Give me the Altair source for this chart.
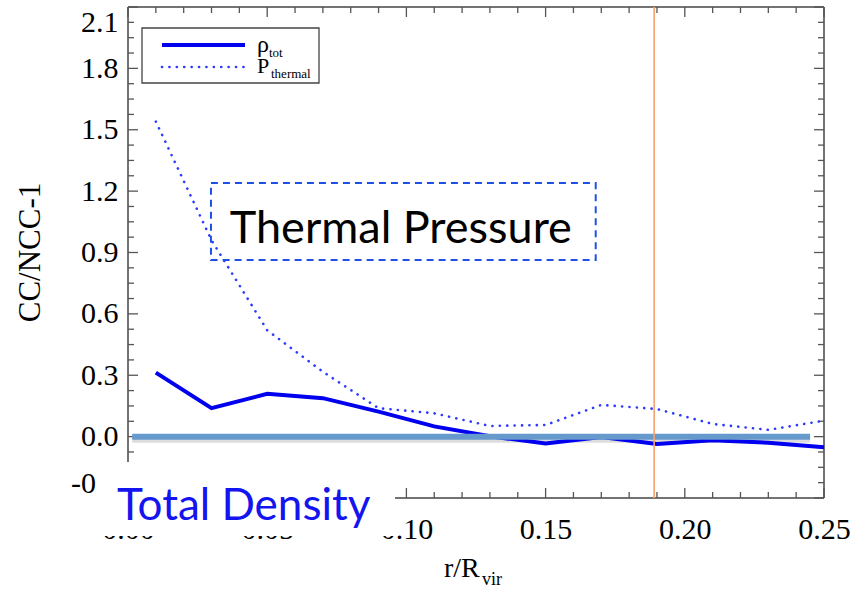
import altair as alt
import pandas as pd

# ---------------- data ----------------
r_x = [0.01, 0.03, 0.05, 0.07, 0.09, 0.11, 0.13, 0.15, 0.17, 0.19, 0.21, 0.23, 0.25]
rho_tot = [0.313, 0.139, 0.209, 0.188, 0.122, 0.050, 0.002, -0.034, -0.002, -0.036, -0.018, -0.030, -0.052]
p_thermal = [1.54, 0.96, 0.52, 0.317, 0.139, 0.114, 0.052, 0.057, 0.155, 0.135, 0.062, 0.033, 0.078]

zero_x = [0.0015, 0.245]
zero_y = [0.0, 0.0]
vline_x = [0.189]

x_major = [0.0, 0.05, 0.10, 0.15, 0.20, 0.25]
x_minor = [0.01, 0.02, 0.03, 0.04, 0.06, 0.07, 0.08, 0.09, 0.11, 0.12, 0.13, 0.14,
           0.16, 0.17, 0.18, 0.19, 0.21, 0.22, 0.23, 0.24]
y_major = [-0.3, 0.0, 0.3, 0.6, 0.9, 1.2, 1.5, 1.8, 2.1]
y_minor = [round(-0.3 + 0.075 * i, 3) for i in range(33) if i % 4 != 0]

box_x = [0.0298, 0.168]
box_y = [0.863, 1.24]
box_text = ["Thermal Pressure"]
box_text_pos = [0.098, 0.946]

W, H = 696, 491
SERIF = "Liberation Serif"
SANS = "Lato"
TICK = "#555555"
FRAME = "#444444"

xs = alt.Scale(domain=[0, 0.25], nice=False, zero=False)
ys = alt.Scale(domain=[-0.3, 2.1], nice=False, zero=False)

x_axis = alt.Axis(values=x_major, format=".2f", labelFont=SERIF, labelFontSize=30,
                  labelColor="black", labelPadding=16, domain=False, ticks=False,
                  tickSize=0, grid=False, title=None, labelFlush=False,
                  labelOverlap=False)
y_axis = alt.Axis(values=y_major, format=".1f", labelExpr="replace(datum.label, '\u2212', '-')",
                  labelFont=SERIF, labelFontSize=30,
                  labelColor="black", labelPadding=10, domain=False, ticks=False,
                  tickSize=0, grid=False, labelFlush=True, labelOverlap=False,
                  title="CC/NCC-1", titleFont=SERIF, titleFontSize=31,
                  titleFontWeight="normal", titleColor="black", titleAngle=270,
                  titleAlign="center", titleBaseline="middle", titleX=-98, titleY=245)

df = pd.DataFrame({"x": r_x, "rho": rho_tot, "p": p_thermal})
zdf = pd.DataFrame({"x": zero_x, "y": zero_y})
one = pd.DataFrame({"d": [0]})

X = lambda f: alt.X(f, type="quantitative", scale=xs, axis=x_axis)
Y = lambda f: alt.Y(f, type="quantitative", scale=ys, axis=y_axis)

# frame
frame = [
    alt.Chart(one).mark_rule(color=FRAME, strokeWidth=1.5).encode(x=alt.value(0), y=alt.value(0), y2=alt.value(H)),
    alt.Chart(one).mark_rule(color=FRAME, strokeWidth=1.5).encode(x=alt.value(W), y=alt.value(0), y2=alt.value(H)),
    alt.Chart(one).mark_rule(color=FRAME, strokeWidth=1.5).encode(y=alt.value(0), x=alt.value(0), x2=alt.value(W)),
    alt.Chart(one).mark_rule(color=FRAME, strokeWidth=1.5).encode(y=alt.value(H), x=alt.value(0), x2=alt.value(W)),
]

# ticks (inward, all four sides)
ymaj = pd.DataFrame({"v": y_major})
ymin = pd.DataFrame({"v": y_minor})
xmaj = pd.DataFrame({"v": x_major})
xmin = pd.DataFrame({"v": x_minor})
ticks = []
for d, ln in [(ymaj, 10), (ymin, 6)]:
    ticks.append(alt.Chart(d).mark_rule(color=TICK, strokeWidth=1.3).encode(y=Y("v"), x=alt.value(0), x2=alt.value(ln)))
    ticks.append(alt.Chart(d).mark_rule(color=TICK, strokeWidth=1.3).encode(y=Y("v"), x=alt.value(W), x2=alt.value(W - ln)))
for d, ln in [(xmaj, 10), (xmin, 6)]:
    ticks.append(alt.Chart(d).mark_rule(color=TICK, strokeWidth=1.3).encode(x=X("v"), y=alt.value(H), y2=alt.value(H - ln)))
    ticks.append(alt.Chart(d).mark_rule(color=TICK, strokeWidth=1.3).encode(x=X("v"), y=alt.value(0), y2=alt.value(ln)))

solid = alt.Chart(df).mark_line(color="#0000EE", strokeWidth=4, strokeJoin="miter").encode(x=X("x"), y=Y("rho"))
dotted = alt.Chart(df).mark_line(color="#2B3BFF", strokeWidth=2.6, strokeDash=[0.1, 7.3],
                                 strokeCap="round").encode(x=X("x"), y=Y("p"))

zero_shadow = alt.Chart(zdf).mark_line(color="#666666", strokeWidth=6, opacity=0.22, yOffset=3).encode(x=X("x"), y=Y("y"))
zero_line = alt.Chart(zdf).mark_line(color="#6699CC", strokeWidth=6).encode(x=X("x"), y=Y("y"))

vline = alt.Chart(pd.DataFrame({"x": vline_x})).mark_rule(color="#F5A46C", strokeWidth=1.6).encode(x=X("x"))

bdf = pd.DataFrame({"x": [box_x[0]], "x2": [box_x[1]], "y": [box_y[0]], "y2": [box_y[1]]})
tbox = alt.Chart(bdf).mark_rect(filled=False, color="#1F50E6", strokeWidth=2, strokeDash=[7, 5]).encode(
    x=X("x"), x2="x2", y=Y("y"), y2="y2")
tdf = pd.DataFrame({"x": [box_text_pos[0]], "y": [box_text_pos[1]], "t": box_text})
ttext = alt.Chart(tdf).mark_text(font=SANS, fontSize=45, color="black", align="center",
                                 baseline="alphabetic").encode(x=X("x"), y=Y("y"), text="t:N")

# legend
legend = [
    alt.Chart(one).mark_rect(fill="white", stroke=FRAME, strokeWidth=1.3).encode(
        x=alt.value(14), x2=alt.value(191), y=alt.value(21), y2=alt.value(76)),
    alt.Chart(one).mark_rule(color="#0000EE", strokeWidth=4).encode(
        x=alt.value(34), x2=alt.value(117), y=alt.value(38)),
    alt.Chart(one).mark_rule(color="#2B3BFF", strokeWidth=2.6, strokeDash=[0.1, 7.3], strokeCap="round").encode(
        x=alt.value(34), x2=alt.value(117), y=alt.value(60)),
    alt.Chart(one).mark_text(font=SERIF, fontSize=24, color="black", align="left", baseline="alphabetic").encode(
        x=alt.value(129), y=alt.value(45), text=alt.value("ρ")),
    alt.Chart(one).mark_text(font=SERIF, fontSize=13, color="black", align="left", baseline="alphabetic").encode(
        x=alt.value(141), y=alt.value(50), text=alt.value("tot")),
    alt.Chart(one).mark_text(font=SERIF, fontSize=22, color="black", align="left", baseline="alphabetic").encode(
        x=alt.value(129), y=alt.value(66), text=alt.value("P")),
    alt.Chart(one).mark_text(font=SERIF, fontSize=13, color="black", align="left", baseline="alphabetic").encode(
        x=alt.value(143), y=alt.value(71), text=alt.value("thermal")),
]

mask = alt.Chart(one).mark_rect(fill="white").encode(
    x=alt.value(-31), x2=alt.value(267), y=alt.value(455), y2=alt.value(529))
total = alt.Chart(one).mark_text(font=SANS, fontSize=44, color="#1414F0", align="left",
                                 baseline="alphabetic").encode(
    x=alt.value(-11), y=alt.value(513), text=alt.value("Total Density"))

xtitle = [
    alt.Chart(one).mark_text(font=SERIF, fontSize=28, color="black", align="left", baseline="alphabetic").encode(
        x=alt.value(316), y=alt.value(570), text=alt.value("r/R")),
    alt.Chart(one).mark_text(font=SERIF, fontSize=18, color="black", align="left", baseline="alphabetic").encode(
        x=alt.value(354), y=alt.value(578), text=alt.value("vir")),
]

layers = frame + ticks + [zero_shadow, solid, dotted, zero_line, vline, tbox, ttext] + legend + [mask, total] + xtitle

chart = alt.layer(*layers).properties(
    width=W, height=H,
    autosize=alt.AutoSizeParams(type="none"),
    padding={"left": 128, "top": 7, "right": 40, "bottom": 91},
).configure_view(stroke=None)

chart.save("out.html", embed_options={"renderer": "svg", "actions": False})
